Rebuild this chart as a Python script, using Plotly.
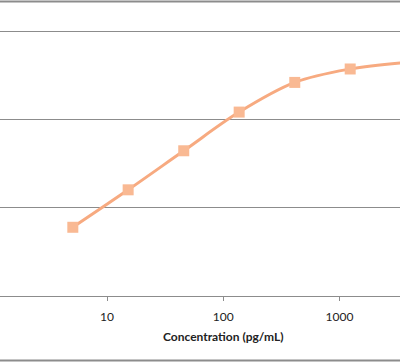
import plotly.graph_objects as go

# Standard curve data (1:3 dilution series)
concentration = [5.08, 15.2, 45.7, 137, 412, 1235, 3704]
od_values = [0.389, 0.601, 0.822, 1.041, 1.209, 1.285, 1.322]
x_tick_vals = [10, 100, 1000]
x_tick_text = ["10", "100", "1000"]

W, H = 400, 362
top, bottom = 28, 296
ph = bottom - top
unit_px = 265 / 1.5  # pixels per unit of y

def py(p):
    return (bottom - p) / ph

fig = go.Figure()
fig.add_trace(go.Scatter(
    x=concentration, y=od_values, mode="lines+markers",
    line=dict(color="#F7AA80", width=3, shape="spline", smoothing=1.0),
    marker=dict(symbol="square", size=11, color="#F9B993"),
    showlegend=False, hoverinfo="x+y",
))

fig.update_layout(
    width=W, height=H,
    margin=dict(l=0, r=0, t=top, b=H - bottom, pad=0),
    paper_bgcolor="white", plot_bgcolor="white",
    font=dict(family="Lato, Calibri, sans-serif", size=12, color="#222"),
    xaxis=dict(
        type="log", range=[0.0796, 3.520],
        tickvals=x_tick_vals, ticktext=x_tick_text,
        showgrid=False, zeroline=False,
        showline=True, linecolor="#8C8C8C", linewidth=1,
        ticks="outside", ticklen=4, tickcolor="#8C8C8C", tickwidth=1,
        ticklabelstandoff=6,
        tickfont=dict(size=12, color="#222"),
    ),
    yaxis=dict(
        range=[0, ph / unit_px], tickvals=[0.5, 1.0, 1.5],
        showgrid=True, gridcolor="#8C8C8C", gridwidth=1.2,
        zeroline=False, showticklabels=False, showline=False,
    ),
    annotations=[dict(
        text="<b>Concentration (pg/mL)</b>", x=223 / W, y=py(336.7),
        xref="paper", yref="paper", xanchor="center", yanchor="middle",
        showarrow=False, font=dict(size=12, color="#222"),
    )],
    shapes=[
        dict(type="line", xref="paper", yref="paper", x0=0, x1=1,
             y0=py(1.5), y1=py(1.5), line=dict(color="#8C8C8C", width=2)),
        dict(type="line", xref="paper", yref="paper", x0=0, x1=1,
             y0=py(360.5), y1=py(360.5), line=dict(color="#8C8C8C", width=2)),
    ],
)

fig.write_html(
    "out.html",
    config={"displayModeBar": False},
    post_script="document.body.style.margin='0';document.body.style.overflow='hidden';",
)
